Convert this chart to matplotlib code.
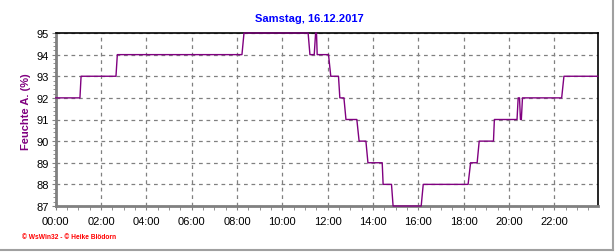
#!/usr/bin/env python3
# -*- coding: utf-8 -*-

#<----------------------------- Imports ------------------------------------>
import matplotlib
matplotlib.use('Agg')
import matplotlib.pyplot as plt
from matplotlib.ticker import MultipleLocator, FuncFormatter
from matplotlib.lines import Line2D

plt.rcParams['font.family'] = ['Liberation Sans', 'DejaVu Sans']

#<------------------------- Daten ------------------------------------------>
titel = 'Samstag, 16.12.2017'
y_label = 'Feuchte A. (%)'
fusszeile = '\u00a9 WsWin32 - \u00a9 Heike Blödorn'

# Zeit in Stunden, Feuchte in %
zeit = [0.0, 1.07, 1.12, 2.66, 2.72, 8.22, 8.31, 11.14, 11.22, 11.41, 11.47,
        11.51, 11.54, 12.04, 12.14, 12.48, 12.54, 12.72, 12.81, 13.29, 13.39,
        13.69, 13.78, 14.41, 14.45, 14.82, 14.89, 16.13, 16.22, 18.2, 18.31,
        18.6, 18.69, 19.32, 19.36, 20.36, 20.41, 20.47, 20.51, 20.55, 20.6,
        22.33, 22.43, 23.92]
feuchte = [92, 92, 93, 93, 94, 94, 95, 95, 94, 94, 95,
           95, 94, 94, 93, 93, 92, 92, 91, 91, 90,
           90, 89, 89, 88, 88, 87, 87, 88, 88, 89,
           89, 90, 90, 91, 91, 92, 92, 91, 91, 92,
           92, 93, 93]

#<--------------------------- Plot ---------------------------------------->
fig = plt.figure(figsize=(6.16, 2.53), dpi=100)
ax = fig.add_axes([55.7 / 616, 1 - 207 / 253, 542 / 616, 173 / 253])

ax.plot(zeit, feuchte, color='#800080', lw=1.0, zorder=3, clip_on=False)

ax.set_xlim(0, 23.92)
ax.set_ylim(87, 95)
ax.xaxis.set_major_locator(MultipleLocator(2))
ax.xaxis.set_minor_locator(MultipleLocator(0.5))
ax.yaxis.set_major_locator(MultipleLocator(1))
ax.yaxis.set_minor_locator(MultipleLocator(0.2))
ax.xaxis.set_major_formatter(FuncFormatter(lambda v, p: '%02d:00' % int(round(v))))

ax.grid(True, which='major', color='#808080', lw=0.9, linestyle=(0, (3, 3)))
ax.set_axisbelow(True)

ax.tick_params(axis='both', which='both', direction='out', color='#808080',
               labelsize=8, labelcolor='black')
ax.tick_params(axis='x', which='major', length=3, pad=4)
ax.tick_params(axis='x', which='minor', length=3)
ax.tick_params(axis='y', which='major', length=3, pad=2)
ax.tick_params(axis='y', which='minor', length=2)

for s in ['left', 'bottom']:
    ax.spines[s].set_color('#808080')
    ax.spines[s].set_linewidth(2.0)
for s in ['top', 'right']:
    ax.spines[s].set_color('black')
    ax.spines[s].set_linewidth(1.2)

fig.text(309 / 616, 1 - 19 / 253, titel, color='#0000ff', fontsize=8,
         fontweight='bold', ha='center', va='center')
fig.text(26 / 616, 1 - 112 / 253, y_label, color='#800080', fontsize=8,
         fontweight='bold', rotation=90, ha='center', va='center')
fig.text(22 / 616, 1 - 238 / 253, fusszeile, color='#ff0000', fontsize=4.8,
         fontweight='bold', ha='left', va='center')

# grauer Rahmen rechts und unten
fig.add_artist(Line2D([612.5 / 616, 612.5 / 616], [1 - 251 / 253, 1],
                      color='#a0a0a0', lw=1.5, transform=fig.transFigure))
fig.add_artist(Line2D([0, 612.5 / 616], [1 - 251 / 253, 1 - 251 / 253],
                      color='#a0a0a0', lw=1.5, transform=fig.transFigure))

fig.savefig('out.png', dpi=100)
